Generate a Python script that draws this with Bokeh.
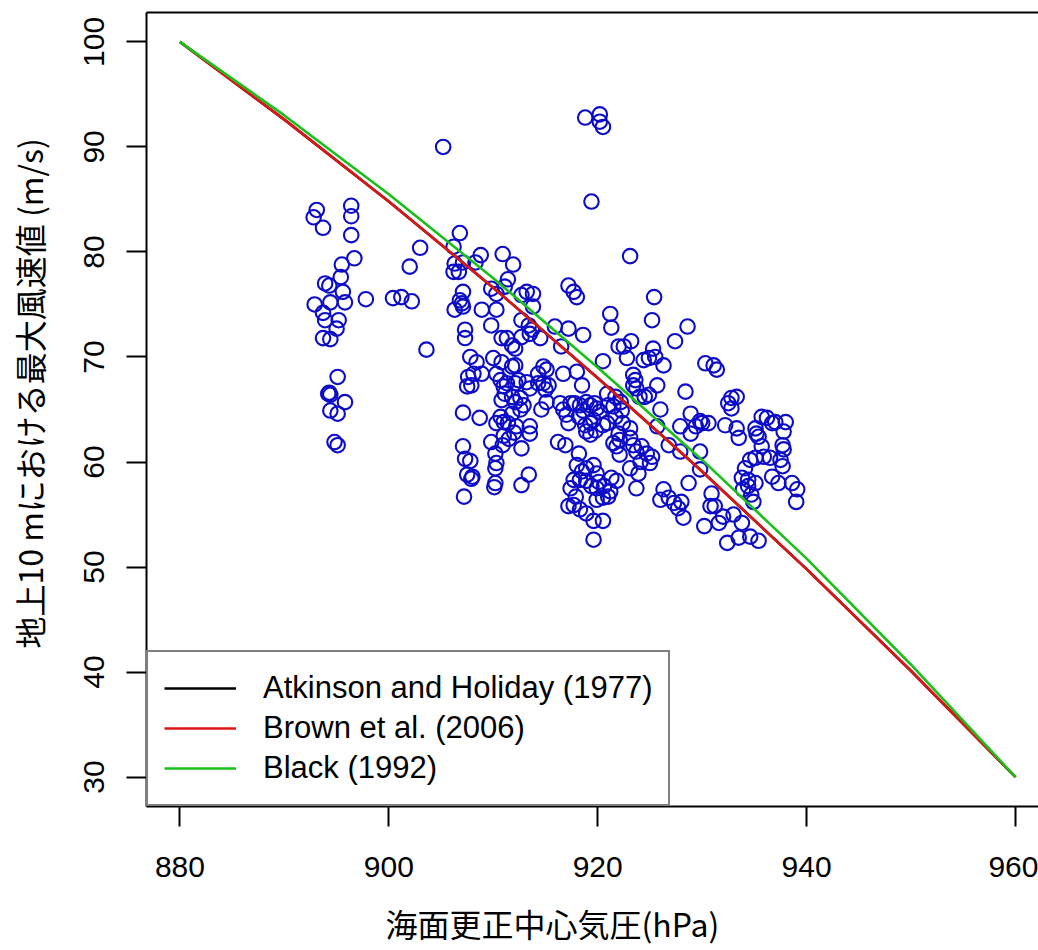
from bokeh.plotting import figure
from bokeh.models import (ColumnDataSource, FixedTicker, LinearAxis, Range1d,
                          Legend, LegendItem, Title)
from bokeh.embed import file_html
from bokeh.resources import INLINE

# --- model curves: max 10 m wind vs. central pressure -------------------------
curve_pressure = [880, 890, 900, 910, 920, 930, 940, 950, 960]
atkinson_holiday_1977 = [100.0, 92.6, 84.8, 76.6, 68.0, 59.1, 49.8, 40.1, 30.0]
brown_2006 = [100.0, 92.6, 84.8, 76.6, 68.0, 59.1, 49.8, 40.1, 30.0]
black_1992 = [100.0, 93.0, 85.5, 77.5, 69.0, 60.2, 50.8, 40.7, 30.0]

# --- observed typhoons: central pressure (hPa) ---------------------------------
pressure_hpa = [
    # 892-898 hPa
    893.1, 892.8, 893.7, 896.4, 896.4, 896.4, 896.7, 895.5, 895.4, 893.9,
    894.3, 892.9, 894.4, 895.6, 895.8, 897.8, 893.7, 893.9, 895.2, 895.0,
    893.7, 894.4, 895.1, 894.2, 894.4, 894.3, 895.8, 894.4, 895.1, 894.8,
    895.1,
    # 900-905 hPa
    900.4, 901.2, 902.2, 902.0, 903.0, 903.6, 905.2,
    # 906-909 hPa
    906.8, 906.2, 908.8, 908.3, 906.3, 907.1, 906.2, 906.7, 907.1, 906.8,
    906.3, 907.1, 907.0, 908.9, 907.3, 907.3, 907.8, 908.4, 907.6, 908.1,
    908.9, 907.9, 907.5, 907.1, 908.7, 907.1, 907.3, 907.8, 907.5, 907.9,
    908.0, 907.2,
    # 910-915 hPa
    910.9, 911.9, 911.4, 911.1, 909.8, 910.3, 913.2, 913.8, 912.7, 913.8,
    910.3, 909.8, 912.7, 913.4, 913.7, 913.5, 914.5, 910.8, 911.3, 911.8,
    912.1, 912.7, 910.0, 910.8, 911.8, 912.1, 914.8, 915.1, 914.3, 910.3,
    910.7, 911.0, 911.3, 912.1, 912.4, 913.2, 913.5, 914.3, 914.8, 915.0,
    915.3, 911.1, 911.8, 912.1, 912.9, 912.6, 910.8, 910.7, 911.0, 911.4,
    912.2, 913.5, 914.6, 910.3, 909.8, 910.2, 910.3, 910.2, 910.2, 910.1,
    912.7, 913.4, 912.7, 913.5, 911.0, 911.5, 912.0, 910.9, 911.8, 912.6,
    # 915-921 hPa
    917.2, 917.7, 918.0, 915.9, 917.2, 918.6, 916.5, 916.7, 918.0, 918.5,
    915.1, 916.4, 916.7, 917.4, 917.8, 918.3, 919.3, 919.9, 918.9, 917.2,
    918.2, 918.8, 919.6, 918.6, 919.3, 916.2, 916.9, 918.2, 917.0, 918.9,
    919.3,
    918.0, 918.5, 918.9, 919.6, 919.9, 917.7, 918.3, 918.9, 919.4, 919.9,
    917.4, 917.9, 917.2, 917.7, 918.3, 918.9, 919.6, 920.5, 919.9, 920.5,
    921.2, 921.8, 919.6, 920.1, 920.6, 921.0, 921.3,
    # 919-924 hPa
    918.8, 920.2, 920.2, 920.5, 919.4, 923.1, 921.2, 921.3, 922.0, 922.5,
    923.2, 922.8, 920.5, 923.4, 923.6, 923.4, 923.7, 920.9, 921.7, 922.2,
    922.3, 921.0, 919.7, 921.7, 921.5, 920.2, 920.9, 920.5, 922.4, 923.1,
    921.5, 922.0, 922.1, 923.1, 923.4, 923.7, 921.8, 922.1, 923.1, 924.1,
    919.8, 923.7, 923.9,
    # 924-930 hPa
    925.4, 925.2, 928.6, 927.4, 925.3, 924.4, 924.9, 925.5, 926.3, 925.7,
    928.4, 924.0, 924.5, 924.9, 926.0, 925.7, 927.9, 928.9, 929.4, 929.8,
    928.9, 926.8, 927.9, 929.8, 929.8, 924.2, 924.7, 925.2, 925.0, 926.3,
    926.8, 926.0, 927.3, 927.7, 928.2, 928.0, 928.7,
    # 930-940 hPa
    930.3, 931.1, 931.4, 932.8, 933.3, 932.8, 932.5, 930.0, 930.6, 932.2,
    933.3, 933.5, 935.1, 935.2, 935.4, 935.7, 936.2, 936.7, 937.0, 938.0,
    937.8, 937.7, 937.8, 937.5, 937.7, 935.7, 935.9, 936.5, 935.1, 934.6,
    934.1, 933.8, 934.4, 935.1, 934.4, 933.9, 934.7, 934.9, 936.7, 937.3,
    938.6, 939.1, 939.0, 930.9, 930.8, 931.2, 930.2, 931.6, 932.0, 933.0,
    933.8, 932.4, 933.5, 934.6, 935.4,
]

# --- observed typhoons: maximum 10 m wind (m/s) --------------------------------
max_wind_ms = [
    # 892-898 hPa
    84.0, 83.3, 82.3, 84.4, 83.4, 81.6, 79.4, 78.8, 77.6, 77.0,
    76.8, 75.0, 75.2, 76.2, 75.2, 75.5, 74.2, 73.5, 73.5, 72.7,
    71.8, 71.7, 68.1, 66.5, 66.4, 66.6, 65.7, 64.9, 64.6, 61.9,
    61.6,
    # 900-905 hPa
    75.6, 75.7, 75.3, 78.6, 80.4, 70.7, 90.0,
    # 906-909 hPa
    81.8, 80.5, 79.7, 79.0, 78.9, 79.0, 78.1, 78.1, 76.2, 75.4,
    74.5, 74.8, 75.1, 74.5, 72.6, 71.8, 70.0, 69.5, 68.1, 68.4,
    68.4, 67.3, 67.2, 64.7, 64.2, 61.5, 60.3, 60.1, 58.8, 58.4,
    58.6, 56.7,
    # 910-915 hPa
    79.8, 78.8, 77.4, 76.7, 76.5, 76.0, 76.2, 76.0, 75.9, 74.8,
    74.5, 73.0, 73.5, 73.0, 72.6, 72.2, 71.8, 71.8, 71.8, 71.1,
    70.8, 71.9, 69.9, 69.5, 69.1, 69.2, 69.1, 68.8, 68.4, 68.4,
    67.8, 67.2, 67.5, 67.5, 67.8, 67.6, 67.0, 67.5, 67.5, 66.9,
    67.3, 66.5, 66.2, 65.7, 65.4, 66.1, 65.9, 64.3, 63.8, 63.7,
    63.4, 63.4, 65.0, 63.7, 61.9, 60.8, 59.9, 59.4, 58.0, 57.6,
    57.8, 58.8, 61.3, 62.7, 62.5, 62.2, 62.8, 61.6, 64.6, 65.0,
    # 915-921 hPa
    76.8, 76.2, 75.7, 72.9, 72.7, 72.1, 71.0, 68.4, 68.6, 67.3,
    65.7, 65.6, 65.0, 65.6, 65.6, 65.4, 65.4, 65.1, 65.7, 63.7,
    64.3, 63.5, 64.0, 64.9, 63.7, 61.9, 61.6, 60.8, 64.5, 62.9,
    62.6,
    59.7, 59.1, 59.4, 59.7, 58.9, 58.3, 58.3, 58.2, 57.7, 57.5,
    57.5, 56.7, 55.8, 55.9, 55.5, 55.1, 54.4, 54.4, 56.4, 56.6,
    57.2, 58.2, 52.6, 58.1, 57.7, 56.7, 58.5,
    # 919-924 hPa
    92.8, 93.1, 92.4, 91.9, 84.8, 79.6, 74.1, 72.8, 71.0, 71.0,
    71.5, 69.9, 69.6, 68.3, 67.8, 67.3, 67.0, 66.5, 66.2, 65.7,
    64.9, 65.4, 65.6, 64.3, 65.3, 64.8, 63.7, 63.5, 63.7, 63.2,
    61.8, 62.7, 62.1, 62.3, 61.6, 61.0, 61.5, 60.7, 59.4, 60.0,
    63.0, 57.5, 58.9,
    # 924-930 hPa
    75.7, 73.5, 72.9, 71.5, 70.8, 69.7, 69.9, 70.0, 69.2, 67.3,
    66.7, 66.2, 66.2, 66.4, 65.0, 63.4, 63.4, 64.6, 63.4, 63.9,
    62.7, 61.6, 61.0, 61.0, 59.3, 61.5, 60.8, 60.5, 59.9, 57.4,
    56.6, 56.4, 56.1, 55.6, 54.7, 56.2, 58.0,
    # 930-940 hPa
    69.4, 69.2, 68.8, 66.1, 66.2, 65.1, 65.6, 63.7, 63.7, 63.5,
    63.2, 62.3, 63.2, 62.7, 62.4, 64.3, 64.2, 63.7, 63.8, 63.8,
    62.9, 61.6, 61.2, 60.2, 59.6, 61.5, 60.5, 60.4, 60.4, 60.2,
    59.4, 58.5, 58.3, 58.0, 57.7, 57.4, 56.9, 56.2, 58.6, 58.0,
    58.0, 57.4, 56.2, 57.0, 55.8, 55.8, 53.9, 54.2, 54.8, 55.0,
    54.2, 52.3, 52.8, 52.9, 52.5,
]

x_ticks = [880, 900, 920, 940, 960]
y_ticks = [30, 40, 50, 60, 70, 80, 90, 100]
legend_labels = ["Atkinson and Holiday (1977)", "Brown et al. (2006)", "Black (1992)"]
x_title = "海面更正中心気圧(hPa)"
y_title = "地上10 mにおける最大風速値 (m/s)"

LATIN = "Liberation Sans"
CJK = "Noto Sans CJK JP"

p = figure(width=1038, height=950,
           x_range=Range1d(876.8, 962.2), y_range=Range1d(27.2, 102.8),
           output_backend="svg", toolbar_location=None,
           min_border_left=146, min_border_right=0,
           min_border_top=12, min_border_bottom=144)
p.grid.visible = False
p.outline_line_color = None
p.background_fill_color = "white"
p.border_fill_color = "white"

# observations as open circles
obs = ColumnDataSource(data=dict(p=pressure_hpa, v=max_wind_ms))
p.scatter("p", "v", source=obs, marker="circle", size=14.5,
          fill_color=None, line_color="#0c0cc8", line_width=2.1)

# model curves
curves = ColumnDataSource(data=dict(p=curve_pressure,
                                    ah=atkinson_holiday_1977,
                                    br=brown_2006,
                                    bl=black_1992))
r_ah = p.line("p", "ah", source=curves, line_color="black", line_width=2.6)
r_br = p.line("p", "br", source=curves, line_color="#e01515", line_width=2.6)
r_bl = p.line("p", "bl", source=curves, line_color="#19c019", line_width=2.6)

# axes
xa = p.xaxis[0]
xa.ticker = FixedTicker(ticks=x_ticks)
ya = p.yaxis[0]
ya.ticker = FixedTicker(ticks=y_ticks)
for ax in (xa, ya):
    ax.axis_line_color = "black"
    ax.axis_line_width = 2
    ax.major_tick_line_color = "black"
    ax.major_tick_line_width = 2
    ax.major_tick_in = 0
    ax.major_tick_out = 20
    ax.minor_tick_line_color = None
    ax.major_label_text_font = LATIN
    ax.major_label_text_font_size = "30px"
    ax.major_label_text_color = "black"
xa.major_label_standoff = 30
ya.major_label_standoff = 22
ya.major_label_orientation = "vertical"

# top edge of the plot box
top = LinearAxis(ticker=FixedTicker(ticks=[]), axis_line_color="black",
                 axis_line_width=2, major_tick_line_color=None,
                 minor_tick_line_color=None)
p.add_layout(top, "above")


def gap(size, tick):
    """Blank axis (white tick, no label) reserving room before the axis title."""
    return LinearAxis(ticker=FixedTicker(ticks=[tick]), axis_line_color=None,
                      major_tick_line_color="white", major_tick_line_width=1,
                      minor_tick_line_color=None,
                      major_tick_in=0, major_tick_out=size,
                      minor_tick_in=0, minor_tick_out=0,
                      major_label_standoff=0,
                      major_label_text_font_size="0px",
                      major_label_text_color=None)


p.add_layout(gap(17, 880), "below")
p.add_layout(gap(25, 30), "left")

# axis titles
p.add_layout(Title(text=x_title, text_font=CJK, text_font_size="32px",
                   text_font_style="normal", text_color="black",
                   align="left", offset=239, vertical_align="bottom",
                   standoff=2), "below")
p.add_layout(Title(text=y_title, text_font=CJK, text_font_size="32px",
                   text_font_style="normal", text_color="black",
                   align="left", offset=158, vertical_align="top",
                   standoff=6), "left")

legend = Legend(items=[LegendItem(label=legend_labels[0], renderers=[r_ah]),
                       LegendItem(label=legend_labels[1], renderers=[r_br]),
                       LegendItem(label=legend_labels[2], renderers=[r_bl])],
                location="bottom_left", margin=0, padding=16, spacing=0,
                glyph_width=72, glyph_height=40, label_height=40,
                label_standoff=27,
                label_text_font=LATIN, label_text_font_size="31px",
                label_text_color="black",
                border_line_color="black", border_line_width=2,
                background_fill_color="white", background_fill_alpha=1.0)
p.add_layout(legend)

open("out.html", "w").write(file_html(p, INLINE))
